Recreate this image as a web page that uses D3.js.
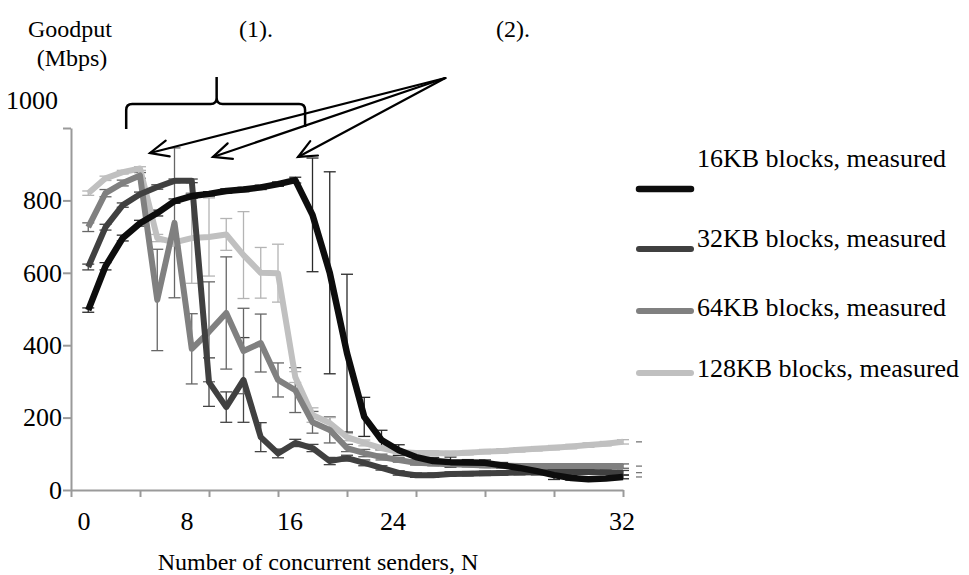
<!DOCTYPE html>
<html>
<head>
<meta charset="utf-8">
<script src="https://cdn.jsdelivr.net/npm/d3@7"></script>
<style>
  body { margin: 0; background: #fff; }
  svg { display: block; }
</style>
</head>
<body>
<svg id="chart" width="969" height="575"></svg>
<script>
// Number of concurrent senders for every measurement
const senders = d3.range(1, 33);

// Mean goodput (Mbps) per block size
const goodput16 = [497, 618, 696, 737, 765, 798, 812, 818, 826, 830, 836, 845, 856, 760, 600, 378,
                   202, 138, 110, 91, 80, 77, 76, 75, 68, 61, 52, 41, 33, 30, 32, 36];
const goodput32 = [616, 726, 787, 817, 837, 854, 854, 298, 229, 304, 146, 101, 130, 116, 80, 88,
                   75, 61, 47, 41, 41, 44, 45, 46, 47, 48, 49, 50, 50, 50, 49, 48];
const goodput64 = [726, 820, 848, 869, 525, 738, 390, 437, 489, 384, 406, 304, 276, 187, 166, 116,
                   102, 91, 83, 75, 73, 71, 70, 68, 67, 66, 66, 66, 66, 66, 66, 66];
const goodput128 = [820, 861, 878, 888, 696, 684, 696, 699, 706, 649, 600, 599, 312, 207, 185, 146,
                    130, 116, 105, 102, 102, 101, 103, 106, 108, 111, 114, 117, 120, 124, 128, 133];

// Error bar half-widths (Mbps)
const err16 = [6, 10, 8, 8, 8, 6, 6, 6, 6, 6, 6, 6, 8, 157, 279, 218,
               54, 27, 15, 8, 10, 14, 8, 8, 8, 8, 10, 12, 6, 5, 5, 5];
const err32 = [8, 8, 6, 6, 6, 5, 5, 67, 42, 117, 40, 12, 10, 10, 10, 8,
               8, 6, 6, 6, 6, 6, 6, 6, 6, 6, 6, 6, 6, 6, 6, 6];
const err64 = [12, 10, 8, 8, 140, 207, 97, 138, 155, 118, 80, 47, 62, 30, 36, 10,
               10, 8, 6, 6, 6, 6, 6, 6, 6, 6, 6, 6, 6, 6, 6, 6];
const err128 = [6, 6, 5, 5, 10, 10, 125, 108, 44, 120, 70, 80, 15, 20, 15, 10,
                8, 6, 6, 6, 6, 6, 6, 6, 6, 6, 6, 6, 6, 6, 6, 6];

const seriesNames = ["16KB blocks, measured", "32KB blocks, measured",
                     "64KB blocks, measured", "128KB blocks, measured"];
const xTickLabels = [0, 8, 16, 24, 32];
const yTickValues = [0, 200, 400, 600, 800, 1000];

// Annotation anchors in data units: [senders, Mbps]
const arrowOrigin = [21.7, 1138];
const arrowTips = [[4.58, 931], [8.23, 920], [13.16, 920]];
const braceSpan = [3.2, 13.57];   // senders range under "(1)."

const series = [
  { name: seriesNames[0], values: goodput16,  err: err16,  color: "#0d0d0d", errColor: "#2a2a2a", width: 6.5 },
  { name: seriesNames[1], values: goodput32,  err: err32,  color: "#404040", errColor: "#444",    width: 6 },
  { name: seriesNames[2], values: goodput64,  err: err64,  color: "#808080", errColor: "#666",    width: 6 },
  { name: seriesNames[3], values: goodput128, err: err128, color: "#c0c0c0", errColor: "#b4b4b4", width: 6 }
];

const FONT = "'Liberation Serif', 'Times New Roman', 'DejaVu Serif', serif";

const svg = d3.select("#chart").attr("font-family", FONT);
const x = d3.scaleLinear().domain([0, 32]).range([71, 623]);
const y = d3.scaleLinear().domain([0, 1000]).range([490, 128]);
// tick label placement along the category axis
const xLabel = v => v < 32 ? d3.scaleLinear().domain([0, 24]).range([84, 393])(v) : x(v) - 1;

const axisColor = "#9a9a9a";

function label(parent, px, py, size, str, anchor) {
  return parent.append("text")
    .attr("x", px).attr("y", py)
    .attr("font-size", size)
    .attr("text-anchor", anchor || "start")
    .style("font-family", FONT)
    .attr("fill", "#000")
    .text(str);
}

// x axis
const gx = svg.append("g").attr("transform", `translate(0,${y(0)})`)
  .call(d3.axisBottom(x).tickValues(d3.range(0, 33, 4)).tickSize(7).tickSizeOuter(0).tickFormat(""));
gx.select(".domain").attr("stroke", axisColor).attr("stroke-width", 2);
gx.selectAll(".tick line").attr("stroke", axisColor).attr("stroke-width", 2);

xTickLabels.forEach(d => label(svg, xLabel(d), 530, 26, d, "middle"));

// y axis
const gy = svg.append("g").attr("transform", `translate(${x(0)},0)`)
  .call(d3.axisLeft(y).tickValues(yTickValues).tickSize(8).tickSizeOuter(0).tickPadding(1)
    .tickFormat(d3.format("d")));
gy.attr("font-family", FONT);
gy.select(".domain").attr("stroke", axisColor).attr("stroke-width", 2);
gy.selectAll(".tick line").attr("stroke", axisColor).attr("stroke-width", 2);
gy.selectAll(".tick text").attr("font-size", 26).attr("fill", "#000").style("font-family", FONT);
gy.selectAll(".tick").filter(d => d === 1000).select("text")
  .attr("transform", "translate(-4,-28)");

// error bars
const capHalf = 6;
series.forEach(s => {
  const g = svg.append("g").attr("stroke", s.errColor).attr("stroke-width", 1.3).attr("fill", "none");
  senders.forEach((n, i) => {
    const cx = x(n), top = y(s.values[i] + s.err[i]), bot = y(s.values[i] - s.err[i]);
    g.append("line").attr("x1", cx).attr("x2", cx).attr("y1", top).attr("y2", bot);
    g.append("line").attr("x1", cx - capHalf).attr("x2", cx + capHalf).attr("y1", top).attr("y2", top);
    g.append("line").attr("x1", cx - capHalf).attr("x2", cx + capHalf).attr("y1", bot).attr("y2", bot);
  });
});

// series lines (lightest first so darker ones sit on top)
const line = d3.line().x((d, i) => x(senders[i])).y(d => y(d));
series.slice().reverse().forEach(s => {
  svg.append("path").datum(s.values)
    .attr("d", line).attr("fill", "none")
    .attr("stroke", s.color).attr("stroke-width", s.width)
    .attr("stroke-linejoin", "round");
});

// short end markers beyond the last point
series.forEach(s => {
  const last = s.values[s.values.length - 1];
  svg.append("line")
    .attr("x1", x(32) + 13).attr("x2", x(32) + 19)
    .attr("y1", y(last)).attr("y2", y(last))
    .attr("stroke", "#777").attr("stroke-width", 1.3);
});

// legend
const legend = svg.append("g");
const legendLineY = [189, 249, 311, 373];
const legendTextY = [167, 247, 316, 377];
series.forEach((s, i) => {
  legend.append("line")
    .attr("x1", 639).attr("x2", 691).attr("y1", legendLineY[i]).attr("y2", legendLineY[i])
    .attr("stroke", s.color).attr("stroke-width", s.width).attr("stroke-linecap", "round");
  label(legend, 697, legendTextY[i], 26, s.name);
});

// axis titles and annotation labels
label(svg, 70, 37, 24, "Goodput", "middle");
label(svg, 72, 66, 24, "(Mbps)", "middle");
label(svg, 256, 37, 24, "(1).", "middle");
label(svg, 513, 37, 24, "(2).", "middle");
label(svg, 318, 570, 24, "Number of concurrent senders, N", "middle");

// brace over the first region
const bx0 = x(braceSpan[0]), bx1 = x(braceSpan[1]), bmid = (bx0 + bx1) / 2 + 1;
const bTop = y(1066), bPeak = y(1141), bBottom = y(997), r = 6;
const brace = d3.path();
brace.moveTo(bx0, bBottom);
brace.lineTo(bx0, bTop + r);
brace.quadraticCurveTo(bx0, bTop, bx0 + r, bTop);
brace.lineTo(bmid - r, bTop);
brace.quadraticCurveTo(bmid, bTop, bmid, bTop - r);
brace.lineTo(bmid, bPeak);
brace.moveTo(bmid, bTop - r);
brace.quadraticCurveTo(bmid, bTop, bmid + r, bTop);
brace.lineTo(bx1 - r, bTop);
brace.quadraticCurveTo(bx1, bTop, bx1, bTop + r);
brace.lineTo(bx1, bBottom - 2);
svg.append("path").attr("d", brace.toString()).attr("fill", "none")
  .attr("stroke", "#000").attr("stroke-width", 2.5);

// arrows pointing to the saturation points
const ox = x(arrowOrigin[0]), oy = y(arrowOrigin[1]);
arrowTips.forEach(t => {
  const tx = x(t[0]), ty = y(t[1]);
  const ang = Math.atan2(oy - ty, ox - tx);
  const headLen = 20, spread = 0.42;
  const g = svg.append("g").attr("stroke", "#000").attr("stroke-width", 2.2).attr("fill", "none")
    .attr("stroke-linecap", "round");
  g.append("line").attr("x1", ox).attr("y1", oy).attr("x2", tx).attr("y2", ty);
  g.append("polyline").attr("points", [
    [tx + headLen * Math.cos(ang + spread), ty + headLen * Math.sin(ang + spread)],
    [tx, ty],
    [tx + headLen * Math.cos(ang - spread), ty + headLen * Math.sin(ang - spread)]
  ].map(p => p.join(",")).join(" "));
});
</script>
</body>
</html>
